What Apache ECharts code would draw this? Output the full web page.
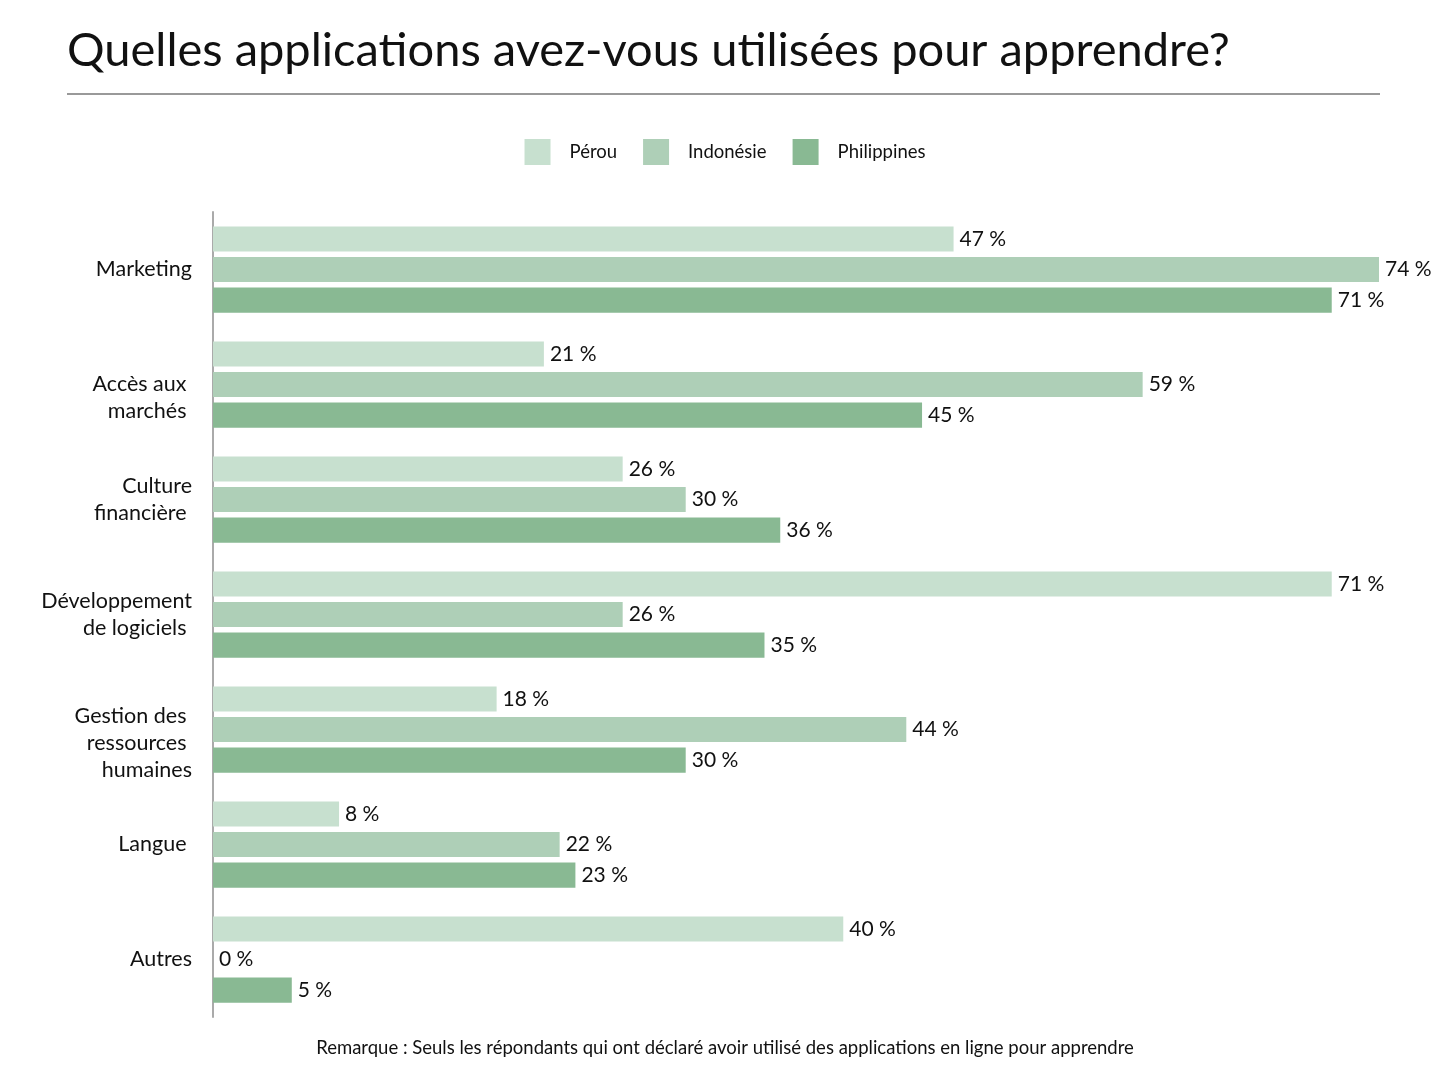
<!DOCTYPE html>
<html><head><meta charset="utf-8">
<script src="https://cdn.jsdelivr.net/npm/echarts@6/dist/echarts.min.js"></script>
<style>html,body{margin:0;padding:0;background:#fff}#c{width:1450px;height:1090px}</style>
</head><body><div id="c"></div>
<script>
const categories = ["Marketing", "\nAccès aux \nmarchés ", "Culture\nfinancière ", "Développement\nde logiciels ", "\nGestion des \nressources \nhumaines", "Langue ", "Autres"];
const seriesNames = ["Pérou", "Indonésie", "Philippines"];
const perou = [47, 21, 26, 71, 18, 8, 40];
const indonesie = [74, 59, 30, 26, 44, 22, 0];
const philippines = [71, 45, 36, 35, 30, 23, 5];
const colors = ["#c7e0cf", "#aecfb7", "#89b993"];
const FONT = "Lato";

const chart = echarts.init(document.getElementById('c'));
const mk = (name, data, color) => ({
  name, type: 'bar', data,
  itemStyle: { color },
  barGap: '22%', barCategoryGap: '25%',
  label: { show: true, position: 'right', distance: 6, formatter: p => p.value + ' %', color: '#111', fontSize: 21, fontFamily: FONT },
  emphasis: { disabled: true }
});
chart.setOption({
  animation: false,
  textStyle: { fontFamily: FONT },
  title: {
    text: 'Quelles applications avez-vous utilisées pour apprendre?',
    left: 62, top: 22,
    textStyle: { fontSize: 47, fontWeight: 'normal', color: '#111', fontFamily: FONT }
  },
  graphic: [
    { type: 'line', shape: { x1: 67, y1: 94, x2: 1380, y2: 94 }, style: { stroke: '#777', lineWidth: 1.5 } },
    { type: 'text', left: 'center', top: 1039, style: { text: 'Remarque : Seuls les répondants qui ont déclaré avoir utilisé des applications en ligne pour apprendre', fontSize: 18.5, fill: '#111', fontFamily: FONT } }
  ],
  legend: {
    data: seriesNames, top: 134, left: 'center',
    itemWidth: 26, itemHeight: 26, itemGap: 26,
    textStyle: { fontSize: 18.5, color: '#111', fontFamily: FONT, padding: [0, 0, 0, 14] },
    icon: 'rect'
  },
  grid: { left: 213, top: 212, width: 1166, height: 805, containLabel: false },
  xAxis: { type: 'value', min: 0, max: 74, show: false, splitLine: { show: false } },
  yAxis: {
    type: 'category', data: categories, inverse: true,
    axisLine: { lineStyle: { color: '#aaa', width: 2 } },
    axisTick: { show: false },
    axisLabel: { fontSize: 21.5, color: '#111', margin: 21, lineHeight: 27, align: 'right', fontFamily: FONT }
  },
  series: [mk(seriesNames[0], perou, colors[0]), mk(seriesNames[1], indonesie, colors[1]), mk(seriesNames[2], philippines, colors[2])]
});
</script></body></html>
